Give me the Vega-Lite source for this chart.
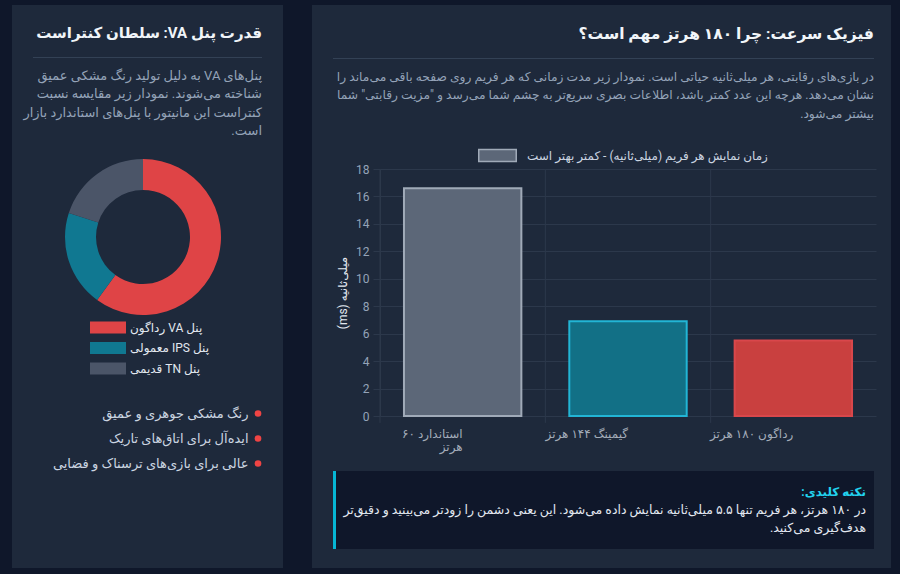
{
  "$schema": "https://vega.github.io/schema/vega-lite/v6.json",
  "background": "#1e293b",
  "padding": 0,
  "spacing": 0,
  "datasets": {
    "none": [],
    "frames": [
      {"panel": "استاندارد ۶۰ هرتز", "ms": 16.6},
      {"panel": "گیمینگ ۱۴۴ هرتز", "ms": 6.9},
      {"panel": "رداگون ۱۸۰ هرتز", "ms": 5.5}
    ],
    "contrast": [
      {"panel": "پنل VA رداگون", "contrast": 3000},
      {"panel": "پنل IPS معمولی", "contrast": 1000},
      {"panel": "پنل TN قدیمی", "contrast": 1000}
    ],
    "features": [
      {"feature": "رنگ مشکی جوهری و عمیق"},
      {"feature": "ایده\u200cآل برای اتاق\u200cهای تاریک"},
      {"feature": "عالی برای بازی\u200cهای ترسناک و فضایی"}
    ]
  },
  "config": {
    "view": {"stroke": null},
    "font": "Roboto, 'DejaVu Sans', sans-serif",
    "concat": {"spacing": 0},
    "title": {"font": "Roboto, 'DejaVu Sans', sans-serif", "subtitleFont": "Roboto, 'DejaVu Sans', sans-serif"},
    "axis": {"labelFont": "Roboto, 'DejaVu Sans', sans-serif", "titleFont": "Roboto, 'DejaVu Sans', sans-serif"},
    "legend": {"labelFont": "Roboto, 'DejaVu Sans', sans-serif", "padding": 0}
  },
  "vconcat": [
    {"width": 900, "height": 5, "view": {"fill": "#0f172a"}, "data": {"name": "none"}, "mark": "point"},
    {
      "spacing": 0,
      "hconcat": [
        {"width": 12, "height": 563, "view": {"fill": "#0f172a"}, "data": {"name": "none"}, "mark": "point"},
        {
          "spacing": 0,
          "hconcat": [
            {"width": 11, "height": 563, "data": {"name": "none"}, "mark": "point"},
            {
              "spacing": 0,
              "vconcat": [
                {"width": 229, "height": 21, "data": {"name": "none"}, "mark": "point"},
                {
                  "width": 229, "height": 1, "view": {"fill": "#334155"}, "data": {"name": "none"}, "mark": "point",
                  "title": {"text": "\u202bقدرت پنل VA: سلطان کنتراست\u202c", "orient": "top", "anchor": "end", "frame": "group", "offset": 16, "fontSize": 15, "fontWeight": "bold", "color": "#f1f5f9"}
                },
                {"width": 229, "height": 11, "data": {"name": "none"}, "mark": "point"},
                {
                  "width": 229, "height": 1, "data": {"name": "none"}, "mark": "point",
                  "title": {
                    "text": [
                      "\u202bپنل\u200cهای VA به دلیل تولید رنگ مشکی عمیق\u202c",
                      "\u202bشناخته می\u200cشوند. نمودار زیر مقایسه نسبت\u202c",
                      "\u202bکنتراست این مانیتور با پنل\u200cهای استاندارد بازار\u202c",
                      "\u202bاست.\u202c"
                    ],
                    "orient": "top", "anchor": "end", "frame": "group", "offset": 0, "fontSize": 13, "fontWeight": "normal", "color": "#94a3b8", "lineHeight": 18.5
                  }
                },
                {"width": 229, "height": 20, "data": {"name": "none"}, "mark": "point"},
                {
                  "width": 220, "height": 156,
                  "layer": [
                    {
                      "data": {"name": "contrast"},
                      "transform": [{"window": [{"op": "row_number", "as": "idx"}]}],
                      "mark": {"type": "arc", "innerRadius": 47, "outerRadius": 78},
                      "encoding": {
                        "theta": {"field": "contrast", "type": "quantitative", "stack": true},
                        "order": {"field": "idx", "type": "quantitative"},
                        "color": {
                          "field": "panel", "type": "nominal", "sort": null,
                          "scale": {"range": ["#df4446", "#107891", "#4b5568"]},
                          "legend": {
                            "title": null, "orient": "none", "legendX": 100.5, "legendY": 320,
                            "symbolType": "M-2.4,-0.8H2.4V0.8H-2.4Z", "symbolSize": 225, "symbolStrokeWidth": 0,
                            "labelColor": "#e2e8f0", "labelFontSize": 12, "labelOffset": 14.5, "rowPadding": 6.5, "labelLimit": 300,
                            "labelExpr": "'\u202b' + datum.label + '\u202c'"
                          }
                        }
                      }
                    },
                    {
                      "data": {"name": "features"},
                      "mark": {"type": "point", "filled": true, "opacity": 0, "color": "#ef4444"},
                      "encoding": {
                        "shape": {
                          "field": "feature", "type": "nominal", "sort": null,
                          "scale": {"range": ["circle", "circle", "circle"]},
                          "legend": {
                            "title": null, "orient": "none", "legendX": 251.5, "legendY": 407,
                            "symbolSize": 44, "symbolOpacity": 1, "symbolFillColor": "#ef4444", "symbolStrokeWidth": 0,
                            "labelAlign": "right", "labelOffset": -16, "labelColor": "#cbd5e1", "labelFontSize": 13,
                            "rowPadding": 11, "labelLimit": 300,
                            "labelExpr": "'\u202b' + datum.label + '\u202c'"
                          }
                        }
                      }
                    }
                  ]
                }
              ]
            },
            {"width": 21, "height": 563, "data": {"name": "none"}, "mark": "point"}
          ]
        },
        {"width": 29, "height": 563, "view": {"fill": "#0f172a"}, "data": {"name": "none"}, "mark": "point"},
        {
          "spacing": 0,
          "hconcat": [
            {"width": 21, "height": 563, "data": {"name": "none"}, "mark": "point"},
            {
              "spacing": 0,
              "vconcat": [
                {"width": 541, "height": 21, "data": {"name": "none"}, "mark": "point"},
                {
                  "width": 541, "height": 1, "view": {"fill": "#334155"}, "data": {"name": "none"}, "mark": "point",
                  "title": {"text": "\u202bفیزیک سرعت: چرا ۱۸۰ هرتز مهم است؟\u202c", "orient": "top", "anchor": "end", "frame": "group", "offset": 16, "fontSize": 15.5, "fontWeight": "bold", "color": "#f1f5f9"}
                },
                {"width": 541, "height": 11, "data": {"name": "none"}, "mark": "point"},
                {
                  "width": 541, "height": 1, "data": {"name": "none"}, "mark": "point",
                  "title": {
                    "text": [
                      "\u202bدر بازی\u200cهای رقابتی، هر میلی\u200cثانیه حیاتی است. نمودار زیر مدت زمانی که هر فریم روی صفحه باقی می\u200cماند را\u202c",
                      "\u202bنشان می\u200cدهد. هرچه این عدد کمتر باشد، اطلاعات بصری سریع\u200cتر به چشم شما می\u200cرسد و \"مزیت رقابتی\" شما\u202c",
                      "\u202bبیشتر می\u200cشود.\u202c"
                    ],
                    "orient": "top", "anchor": "end", "frame": "group", "offset": 0, "fontSize": 12.3, "fontWeight": "normal", "color": "#94a3b8", "lineHeight": 18.5
                  }
                },
                {"width": 541, "height": 42, "data": {"name": "none"}, "mark": "point"},
                {
                  "spacing": 0,
                  "hconcat": [
                    {"width": 3, "height": 247, "data": {"name": "none"}, "mark": "point"},
                    {
                      "width": 496, "height": 247,
                      "data": {"name": "frames"},
                      "layer": [
                        {
                          "mark": {"type": "rule", "color": "#2c384b", "strokeWidth": 1},
                          "encoding": {
                            "x": {"field": "panel", "type": "nominal", "sort": null, "bandPosition": 0},
                            "y": {
                              "datum": 18, "type": "quantitative",
                              "scale": {"domain": [0, 18], "nice": false},
                              "axis": {
                                "title": "\u202bمیلی\u200cثانیه (ms)\u202c", "values": [0, 2, 4, 6, 8, 10, 12, 14, 16, 18],
                                "grid": true, "gridColor": "#2c384b", "tickColor": "#2c384b", "tickSize": 7, "domainColor": "#2c384b",
                                "labelColor": "#94a3b8", "labelFontSize": 12, "labelPadding": 4,
                                "titleColor": "#e2e8f0", "titleFontSize": 12, "titleFontWeight": "normal", "titlePadding": 6
                              }
                            },
                            "y2": {"datum": -0.5}
                          }
                        },
                        {
                          "mark": {"type": "bar", "width": {"band": 0.71}, "strokeWidth": 2},
                          "encoding": {
                            "x": {
                              "field": "panel", "type": "nominal", "sort": null,
                              "scale": {"paddingInner": 0, "paddingOuter": 0},
                              "axis": {
                                "title": null, "ticks": false, "domain": false, "grid": false, "labelAngle": 0,
                                "labelColor": "#a3acb9", "labelFontSize": 12, "labelPadding": 17, "labelLineHeight": 13,
                                "labelExpr": "datum.label == 'استاندارد ۶۰ هرتز' ? ['\u202bاستاندارد ۶۰\u202c', 'هرتز'] : '\u202b' + datum.label + '\u202c'"
                              }
                            },
                            "y": {
                              "field": "ms", "type": "quantitative",
                              "scale": {"domain": [0, 18], "nice": false},
                              "axis": {
                                "title": "\u202bمیلی\u200cثانیه (ms)\u202c", "values": [0, 2, 4, 6, 8, 10, 12, 14, 16, 18],
                                "grid": true, "gridColor": "#2c384b", "tickColor": "#2c384b", "tickSize": 7, "domainColor": "#2c384b",
                                "labelColor": "#94a3b8", "labelFontSize": 12, "labelPadding": 4,
                                "titleColor": "#e2e8f0", "titleFontSize": 12, "titleFontWeight": "normal", "titlePadding": 6
                              }
                            },
                            "fill": {
                              "field": "panel", "type": "nominal", "sort": null,
                              "scale": {"range": ["#5c6778", "#127086", "#c9403f"]},
                              "legend": {
                                "title": null, "orient": "none", "legendX": 489, "legendY": 147,
                                "values": ["استاندارد ۶۰ هرتز"],
                                "labelExpr": "'\u202bزمان نمایش هر فریم (میلی\u200cثانیه) - کمتر بهتر است\u202c'",
                                "symbolType": "M-2.5,-0.8H2.5V0.8H-2.5Z", "symbolSize": 225,
                                "symbolStrokeColor": "#a0aab8", "symbolStrokeWidth": 1.5,
                                "labelColor": "#cbd5e1", "labelFontSize": 12, "labelOffset": 21, "labelLimit": 400
                              }
                            },
                            "stroke": {
                              "field": "panel", "type": "nominal", "sort": null,
                              "scale": {"range": ["#a0aab8", "#22b5d5", "#d9474b"]},
                              "legend": null
                            }
                          }
                        }
                      ]
                    }
                  ]
                },
                {"width": 541, "height": 19, "data": {"name": "none"}, "mark": "point"},
                {
                  "spacing": 0,
                  "hconcat": [
                    {"width": 3, "height": 78, "view": {"fill": "#06b6d4"}, "data": {"name": "none"}, "mark": "point"},
                    {
                      "width": 538, "height": 78, "view": {"fill": "#0f172a"}, "data": {"name": "none"}, "mark": "point",
                      "title": {
                        "text": "\u202bنکته کلیدی:\u202c",
                        "subtitle": [
                          "\u202bدر ۱۸۰ هرتز، هر فریم تنها ۵.۵ میلی\u200cثانیه نمایش داده می\u200cشود. این یعنی دشمن را زودتر می\u200cبینید و دقیق\u200cتر\u202c",
                          "\u202bهدف\u200cگیری می\u200cکنید.\u202c"
                        ],
                        "orient": "bottom", "anchor": "end", "frame": "group", "offset": -62, "dx": -8,
                        "fontSize": 12, "fontWeight": "bold", "color": "#22d3ee",
                        "subtitleFontSize": 12.5, "subtitleColor": "#e2e8f0", "subtitleLineHeight": 18, "subtitlePadding": 5
                      }
                    }
                  ]
                }
              ]
            },
            {"width": 15, "height": 563, "data": {"name": "none"}, "mark": "point"}
          ]
        },
        {"width": 11, "height": 563, "view": {"fill": "#0f172a"}, "data": {"name": "none"}, "mark": "point"}
      ]
    },
    {"width": 900, "height": 6, "view": {"fill": "#0f172a"}, "data": {"name": "none"}, "mark": "point"}
  ]
}
